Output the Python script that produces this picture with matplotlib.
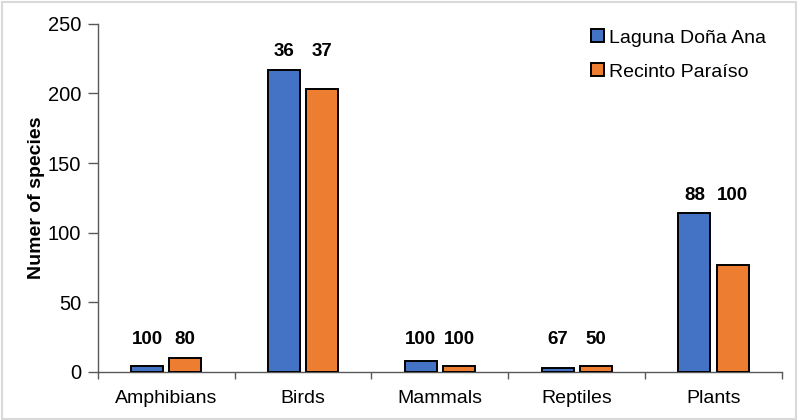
import matplotlib.pyplot as plt
import numpy as np

plt.rcParams['font.family'] = ['Liberation Sans', 'DejaVu Sans']

categories = ['Amphibians', 'Birds', 'Mammals', 'Reptiles', 'Plants']
laguna = [4, 217, 8, 3, 114]
recinto = [10, 203, 4, 4, 77]
laguna_lbl = ['100', '36', '100', '67', '88']
recinto_lbl = ['80', '37', '100', '50', '100']

blue = '#4472C4'
orange = '#ED7D31'

fig = plt.figure(figsize=(7.98, 4.2), dpi=100)
ax = fig.add_axes([0.1224, 0.115, 0.8576, 0.828])

x = np.arange(len(categories))
w = 0.234
off = 0.14
ax.bar(x - off, laguna, w, color=blue, edgecolor='black', linewidth=1.4,
       label='Laguna Doña Ana', zorder=3)
ax.bar(x + off, recinto, w, color=orange, edgecolor='black', linewidth=1.4,
       label='Recinto Paraíso', zorder=3)

# percent labels above each pair
for i in range(len(categories)):
    top = max(10, laguna[i], recinto[i]) + 13
    ax.text(x[i] - off, top, laguna_lbl[i], ha='center', va='center',
            fontsize=13.5, fontweight='bold')
    ax.text(x[i] + off, top, recinto_lbl[i], ha='center', va='center',
            fontsize=13.5, fontweight='bold')

ax.set_xlim(-0.5, len(categories) - 0.5)
ax.set_ylim(0, 250)
ax.set_yticks(range(0, 251, 50))
ax.set_xticks(x)
ax.set_xticklabels(categories, fontsize=14)
ax.set_xticks(np.arange(-0.5, len(categories), 1), minor=True)
ax.tick_params(axis='x', which='major', length=0, pad=13)
ax.tick_params(axis='x', which='minor', length=5, width=1, color='#595959')
ax.tick_params(axis='y', labelsize=14.5, length=7, width=1, color='#595959', pad=5)

for s in ['top', 'right']:
    ax.spines[s].set_visible(False)
for s in ['left', 'bottom']:
    ax.spines[s].set_color('#595959')
    ax.spines[s].set_linewidth(1)

ax.set_ylabel('Numer of species', fontsize=14, fontweight='bold', labelpad=2)

leg = fig.legend(loc='upper left', bbox_to_anchor=(0.741, 0.93), frameon=False,
                 fontsize=14, handlelength=0.65, handleheight=0.65,
                 handletextpad=0.25, labelspacing=0.85, borderpad=0,
                 borderaxespad=0)

# light frame around the figure
fig.patches.append(plt.Rectangle((0.002, 0.002), 0.996, 0.994,
                                 transform=fig.transFigure, fill=False,
                                 edgecolor='#D9D9D9', linewidth=1.5))

fig.savefig('out.png', dpi=100)
